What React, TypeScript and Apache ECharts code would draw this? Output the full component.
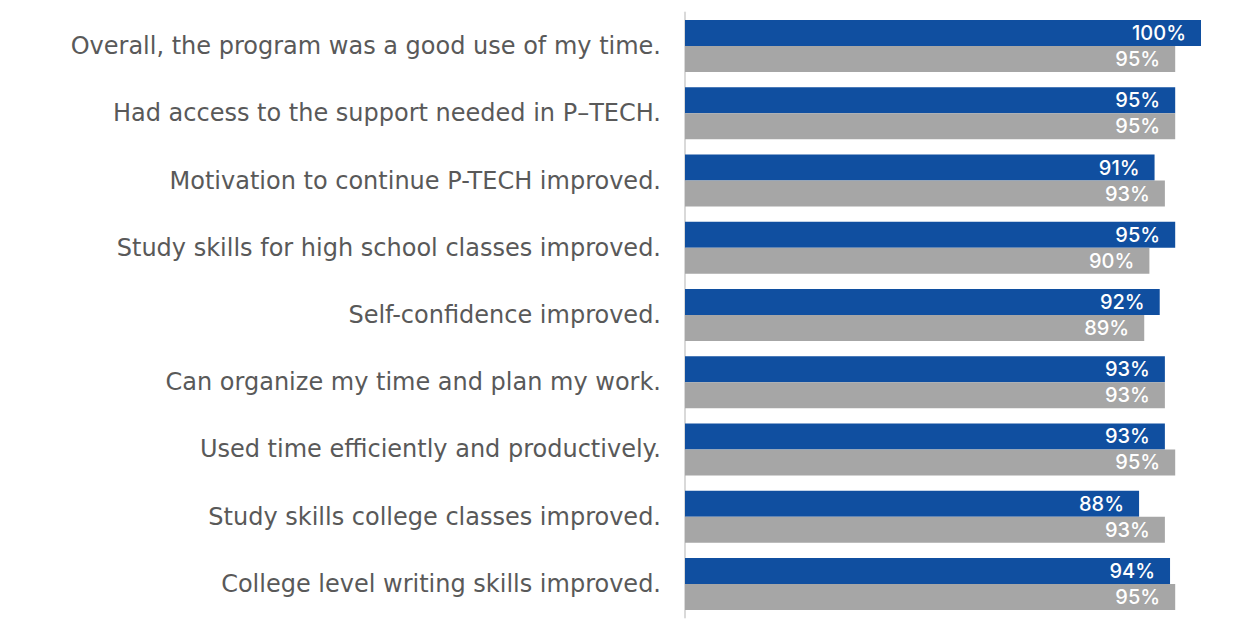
import React, { useEffect, useRef } from "react";
import * as echarts from "echarts";

const categories = [
  "Overall, the program was a good use of my time.",
  "Had access to the support needed in P\u2013TECH.",
  "Motivation to continue P-TECH improved.",
  "Study skills for high school classes improved.",
  "Self-confidence improved.",
  "Can organize my time and plan my work.",
  "Used time efficiently and productively.",
  "Study skills college classes improved.",
  "College level writing skills improved.",
];
const blueValues = [100, 95, 91, 95, 92, 93, 93, 88, 94];
const grayValues = [95, 95, 93, 90, 89, 93, 95, 93, 95];

const FONT = "Inter, 'Open Sans', sans-serif";
const LABEL_FONT = "'DejaVu Sans', sans-serif";

export default function App() {
  const ref = useRef<HTMLDivElement>(null);
  useEffect(() => {
    if (!ref.current) return;
    const chart = echarts.init(ref.current, undefined, { renderer: "svg" });
    const label = {
      show: true,
      position: "insideRight",
      distance: 15,
      color: "#ffffff",
      fontSize: 20,
      fontWeight: 500,
      fontFamily: FONT,
      formatter: (p: any) => p.value + "%",
    };
    chart.setOption({
      animation: false,
      grid: { left: 677, top: 4.5, width: 516, height: 605 },
      xAxis: {
        type: "value",
        min: 0,
        max: 100,
        show: false,
      },
      yAxis: {
        type: "category",
        data: categories,
        inverse: true,
        axisLine: { show: true, lineStyle: { color: "#d9d9d9", width: 2 } },
        axisTick: { show: false },
        axisLabel: {
          margin: 24,
          fontSize: 24,
          color: "#595959",
          fontFamily: LABEL_FONT,
          padding: [0, 0, 6, 0],
        },
      },
      series: [
        {
          name: "A",
          type: "bar",
          data: blueValues,
          barWidth: 26,
          barGap: "0%",
          itemStyle: { color: "#104fa0" },
          label,
        },
        {
          name: "B",
          type: "bar",
          data: grayValues,
          barWidth: 26,
          barGap: "0%",
          itemStyle: { color: "#a6a6a6" },
          label,
        },
      ],
    });
    return () => chart.dispose();
  }, []);
  return <div ref={ref} style={{ width: 1217, height: 620 }} />;
}
